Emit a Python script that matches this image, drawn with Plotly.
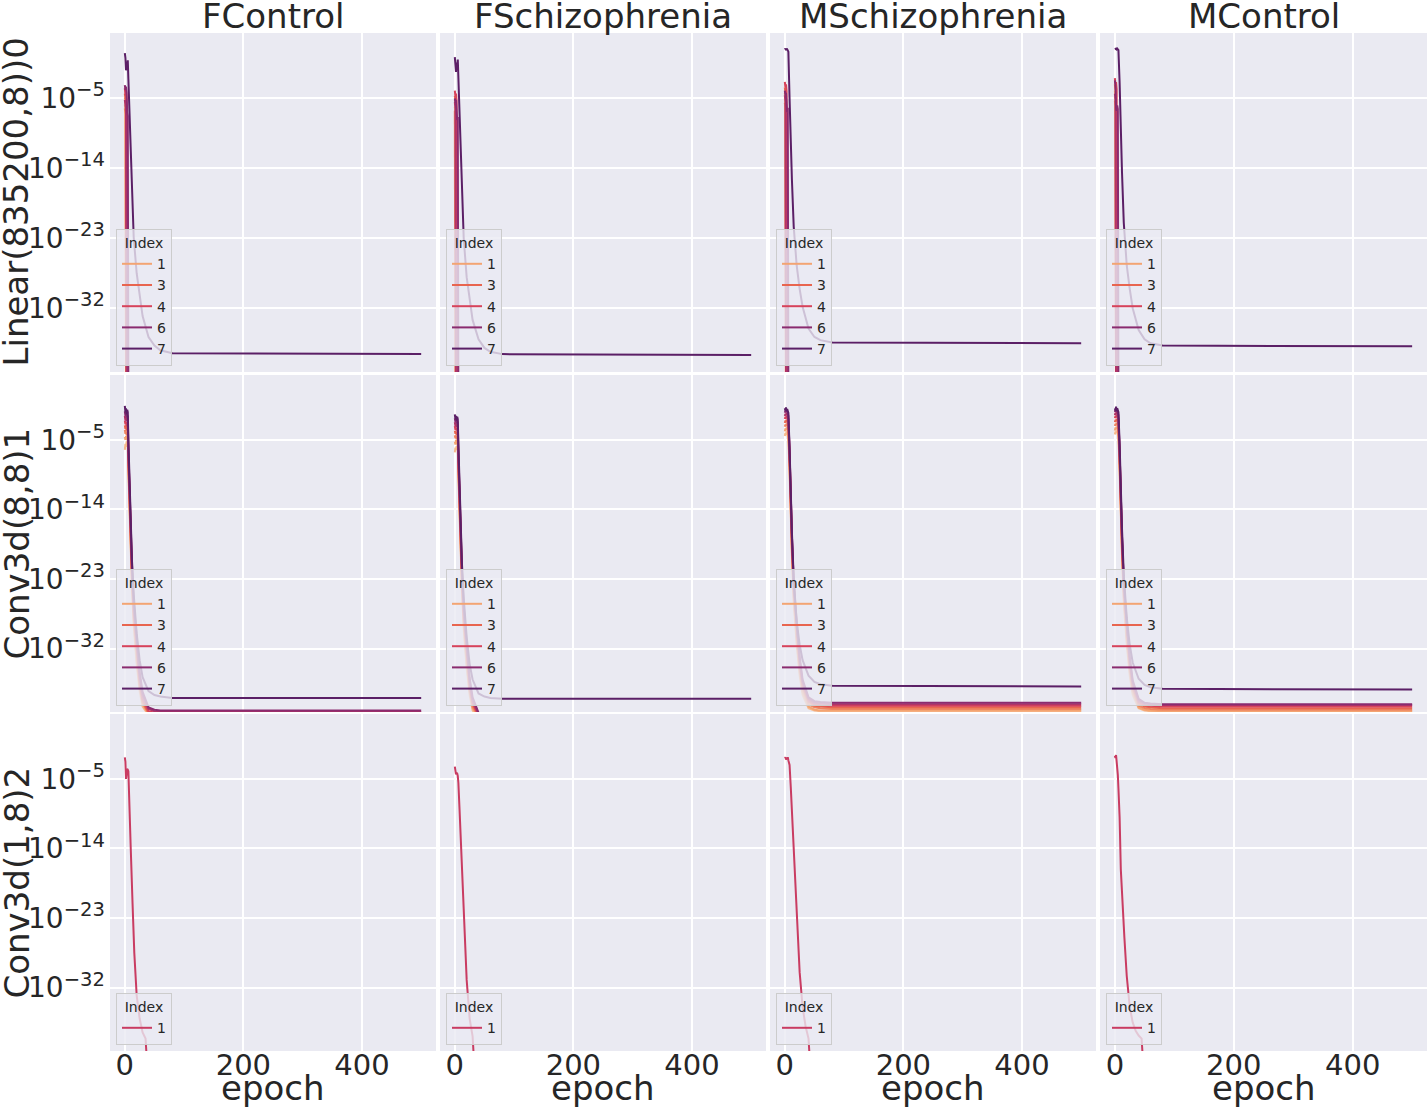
import plotly.graph_objects as go
from plotly.subplots import make_subplots

# facet labels
columns = ["FControl", "FSchizophrenia", "MSchizophrenia", "MControl"]
layers = ["Linear(835200,8))0", "Conv3d(8,8)1", "Conv3d(1,8)2"]

# hue colours for Index 0..7 and for the single-index last row
palette = ["#f6b98c", "#f3a472", "#ee8561", "#e8654f", "#d7435b", "#b13467", "#8a2b6f", "#5b1f66"]
single_color = "#c93c62"
legend_indices = [1, 3, 4, 6, 7]

# epochs on which the values were read; values are log10, -45 = fell to zero
epochs = [0, 1, 2, 3, 4, 5, 6, 8, 10, 12, 15, 20, 25, 30, 40, 50, 60, 80, 500]
epochs_last = [0, 1, 2, 3, 4, 5, 6, 8, 10, 13, 16, 20, 25, 30, 35, 40, 45, 50]

# --- Linear(835200,8))0 ---
lin_fcontrol = [
    [-5.8, -6.5, -45],
    [-4.9, -5.6, -6.2, -45],
    [-6.3, -7.0, -45],
    [-4.4, -5.1, -4.8, -45],
    [-3.7, -4.6, -4.1, -5.0, -45],
    [-5.2, -6.0, -6.6, -45],
    [-3.3, -3.9, -3.5, -4.2, -6.8, -7.3, -45],
    [0.8, 0.2, -1.4, -0.6, -1.0, -0.1, -2.5, -7, -12, -16.5, -22.9, -27.5, -30.5, -33, -35.7, -36.8, -37.4, -37.8, -37.9],
]
lin_fschizo = [
    [-6.1, -6.9, -45],
    [-5.2, -5.8, -45],
    [-6.6, -45],
    [-4.7, -5.3, -5.0, -45],
    [-4.0, -4.8, -4.4, -5.3, -45],
    [-5.5, -6.3, -45],
    [-5.0, -5.6, -5.2, -6.1, -7.8, -7.4, -45],
    [0.3, -0.6, -1.6, -0.4, -1.3, 0.0, -2.5, -7, -12, -16.5, -23, -28, -31, -33.5, -36, -37.1, -37.6, -37.9, -38.0],
]
lin_mschizo = [
    [-5.0, -5.8, -45],
    [-4.3, -5.1, -45],
    [-5.6, -6.2, -45],
    [-3.6, -4.4, -4.0, -45],
    [-2.9, -3.6, -3.2, -4.1, -45],
    [-4.6, -5.4, -45],
    [-4.0, -4.6, -4.3, -6.5, -6.8, -6.2, -45],
    [1.3, 1.4, 1.2, 1.4, 1.3, 1.2, 1.0, -5, -11, -15.5, -21.5, -26.5, -29.5, -31.8, -34.6, -35.7, -36.1, -36.4, -36.5],
]
lin_mcontrol = [
    [-4.8, -5.5, -45],
    [-4.0, -4.9, -45],
    [-5.3, -6.0, -45],
    [-3.2, -4.0, -3.7, -45],
    [-2.4, -3.2, -2.9, -3.8, -45],
    [-4.4, -5.1, -45],
    [-2.7, -3.4, -6.2, -6.6, -5.9, -6.4, -45],
    [1.3, 1.4, 1.4, 1.3, 1.4, 1.3, 1.2, -3, -9.5, -14.5, -21, -26.5, -29.5, -32, -34.8, -36, -36.5, -36.8, -36.9],
]

# --- Conv3d(8,8)1 ---
c1_fcontrol = [
    [-6.3, -5.5, -5.9, -5.2, -5.6, -5.8, -9, -15, -20, -24, -29, -34, -37.5, -39.5, -40.6, -40.7, -40.7, -40.7, -40.7],
    [-4.6, -5.0, -4.5, -4.9, -4.7, -5.1, -8.5, -14.5, -19.5, -23.5, -28.5, -33.5, -37, -39.2, -40.5, -40.6, -40.6, -40.6, -40.6],
    [-3.7, -4.2, -3.9, -4.4, -4.0, -4.3, -8, -14, -19, -23, -28, -33, -36.8, -39, -40.4, -40.5, -40.5, -40.5, -40.5],
    [-3.1, -3.6, -3.2, -3.8, -3.4, -3.7, -7.5, -13.5, -18.5, -22.5, -27.5, -32.5, -36.5, -38.8, -40.3, -40.4, -40.4, -40.4, -40.4],
    [-2.5, -3.0, -2.7, -3.2, -2.8, -3.1, -7, -13, -18, -22, -27, -32, -36, -38.5, -40.1, -40.3, -40.3, -40.3, -40.3],
    [-1.9, -2.5, -2.1, -2.6, -2.3, -2.6, -6.5, -12.5, -17.5, -21.5, -26.5, -31.5, -35.5, -38, -39.8, -40.1, -40.2, -40.2, -40.2],
    [-1.3, -1.9, -1.5, -2.1, -1.8, -2.0, -6, -12, -17, -21, -26, -31, -35, -37.6, -39.6, -39.9, -40.0, -40.0, -40.0],
    [-0.6, -1.4, -0.9, -1.7, -1.1, -1.4, -5, -11, -16.5, -20.5, -25, -30, -33.5, -35.7, -37.5, -38.0, -38.2, -38.4, -38.4],
]
c1_fschizo = [
    [-6.6, -6.0, -6.3, -5.8, -6.1, -6.2, -9.5, -15.5, -20.5, -24.5, -29.5, -34.5, -38, -40, -41, -41.1, -41.1, -41.1, -41.1],
    [-5.2, -5.6, -5.0, -5.5, -5.3, -5.6, -9, -15, -20, -24, -29, -34, -37.6, -39.7, -40.9, -41.0, -41.0, -41.0, -41.0],
    [-4.4, -4.8, -4.5, -4.9, -4.6, -4.9, -8.5, -14.5, -19.5, -23.5, -28.5, -33.5, -37.3, -39.5, -40.8, -40.9, -40.9, -40.9, -40.9],
    [-3.8, -4.2, -3.9, -4.4, -4.0, -4.3, -8, -14, -19, -23, -28, -33, -37, -39.2, -40.7, -40.8, -40.8, -40.8, -40.8],
    [-3.2, -3.7, -3.4, -3.8, -3.5, -3.8, -7.5, -13.5, -18.5, -22.5, -27.5, -32.5, -36.6, -39, -40.6, -40.7, -40.7, -40.7, -40.7],
    [-2.7, -3.2, -2.9, -3.3, -3.0, -3.3, -7, -13, -18, -22, -27, -32, -36.2, -38.7, -40.5, -40.6, -40.6, -40.6, -40.6],
    [-2.2, -2.7, -2.4, -2.9, -2.5, -2.8, -6.5, -12.5, -17.5, -21.5, -26.5, -31.5, -35.8, -38.3, -40.3, -40.5, -40.5, -40.5, -40.5],
    [-1.7, -2.3, -1.9, -2.5, -2.0, -2.3, -5.5, -11.5, -17, -21, -25.5, -30.5, -34, -36, -37.8, -38.2, -38.4, -38.5, -38.5],
]
c1_mschizo = [
    [-4.5, -4.1, -4.3, -3.9, -4.2, -4.4, -4.8, -9, -15, -20, -26, -31.5, -35.5, -38, -39.7, -40.0, -40.1, -40.1, -40.1],
    [-3.9, -3.5, -3.7, -3.4, -3.6, -3.8, -4.2, -8.5, -14.5, -19.5, -25.5, -31, -35, -37.6, -39.5, -39.9, -40.0, -40.0, -40.0],
    [-3.3, -3.0, -3.2, -2.9, -3.1, -3.3, -3.7, -8, -14, -19, -25, -30.5, -34.6, -37.2, -39.2, -39.6, -39.7, -39.8, -39.8],
    [-2.8, -2.5, -2.7, -2.4, -2.6, -2.8, -3.2, -7.5, -13.5, -18.5, -24.5, -30, -34.2, -36.9, -38.9, -39.4, -39.5, -39.6, -39.6],
    [-2.3, -2.0, -2.2, -1.9, -2.1, -2.3, -2.7, -7, -13, -18, -24, -29.5, -33.8, -36.6, -38.7, -39.2, -39.3, -39.4, -39.4],
    [-1.9, -1.6, -1.8, -1.5, -1.7, -1.9, -2.3, -6.5, -12.5, -17.5, -23.5, -29, -33.4, -36.3, -38.5, -39.0, -39.1, -39.2, -39.2],
    [-1.5, -1.2, -1.4, -1.1, -1.3, -1.5, -1.9, -6.5, -12.5, -17.5, -23.5, -29, -33, -36, -38.3, -38.8, -38.9, -39.0, -39.0],
    [-0.9, -1.2, -0.8, -1.3, -1.0, -1.2, -1.5, -6, -12, -17, -23, -28.5, -31.5, -33.5, -35.5, -36.3, -36.6, -36.8, -36.9],
]
c1_mcontrol = [
    [-4.3, -3.9, -4.1, -3.8, -4.0, -4.2, -4.6, -9, -15, -20, -26, -31.5, -35.5, -38, -39.7, -40.0, -40.1, -40.1, -40.1],
    [-3.8, -3.4, -3.6, -3.3, -3.5, -3.7, -4.1, -8.5, -14.5, -19.5, -25.5, -31, -35, -37.6, -39.6, -39.9, -40.0, -40.1, -40.1],
    [-3.2, -2.9, -3.1, -2.8, -3.0, -3.2, -3.6, -8, -14, -19, -25, -30.5, -34.6, -37.3, -39.4, -39.7, -39.8, -39.9, -39.9],
    [-2.7, -2.4, -2.6, -2.3, -2.5, -2.7, -3.1, -7.5, -13.5, -18.5, -24.5, -30, -34.2, -37, -39.1, -39.5, -39.6, -39.7, -39.7],
    [-2.2, -1.9, -2.1, -1.8, -2.0, -2.2, -2.6, -7, -13, -18, -24, -29.5, -33.8, -36.7, -38.9, -39.3, -39.4, -39.5, -39.5],
    [-1.8, -1.5, -1.7, -1.4, -1.6, -1.8, -2.2, -6.5, -12.5, -17.5, -23.5, -29, -33.4, -36.4, -38.7, -39.1, -39.2, -39.3, -39.3],
    [-1.4, -1.1, -1.3, -1.0, -1.2, -1.4, -1.8, -6.5, -12.5, -17.5, -23.5, -29, -33, -36.1, -38.5, -39.0, -39.1, -39.2, -39.2],
    [-0.9, -1.2, -0.7, -1.3, -0.9, -1.1, -1.4, -5.5, -11.5, -16.5, -22.5, -28, -31.5, -33.8, -35.9, -36.7, -37.0, -37.2, -37.3],
]

# --- Conv3d(1,8)2 (single index) ---
c2_fcontrol = [-2.2, -2.8, -5.0, -4.6, -3.7, -3.8, -4.0, -8, -14, -21, -27.5, -33, -36, -37.8, -38.6, -45]
c2_fschizo = [-3.4, -3.8, -4.4, -4.2, -4.3, -4.6, -5.5, -9, -13, -19.5, -25, -31, -36, -38.3, -45]
c2_mschizo = [-2.3, -2.2, -2.5, -2.3, -2.4, -2.2, -2.6, -3.2, -6, -11, -16, -23, -30, -34.5, -37, -38.6, -45]
c2_mcontrol = [-2.0, -2.3, -1.9, -2.6, -3.4, -4.5, -6.2, -10, -16.7, -21.5, -25.5, -30.5, -34.5, -36.5, -37.6, -38.2, -38.6, -45]

linear_rows = [lin_fcontrol, lin_fschizo, lin_mschizo, lin_mcontrol]
conv1_rows = [c1_fcontrol, c1_fschizo, c1_mschizo, c1_mcontrol]
conv2_rows = [c2_fcontrol, c2_fschizo, c2_mschizo, c2_mcontrol]

W, H = 1428, 1107
col_px = [(110, 436), (440, 766), (770, 1096), (1100, 1427)]
row_px = [(33, 372), (375, 712), (714, 1051)]
TXT = "#262626"
FONT = "DejaVu Sans"

fig = make_subplots(rows=3, cols=4)

def legend_id(r, c):
    n = r * 4 + c + 1
    return "legend" if n == 1 else f"legend{n}"

for c in range(4):
    for r, panel in enumerate([linear_rows[c], conv1_rows[c]]):
        for idx, vals in enumerate(panel):
            fig.add_trace(go.Scatter(
                x=epochs[:len(vals)], y=[10 ** v for v in vals],
                mode="lines", line=dict(color=palette[idx], width=2),
                name=str(idx), showlegend=idx in legend_indices,
                legend=legend_id(r, c),
            ), row=r + 1, col=c + 1)
    vals = conv2_rows[c]
    fig.add_trace(go.Scatter(
        x=epochs_last[:len(vals)], y=[10 ** v for v in vals],
        mode="lines", line=dict(color=single_color, width=2),
        name="1", showlegend=True, legend=legend_id(2, c),
    ), row=3, col=c + 1)

layout = {}
for r in range(3):
    for c in range(4):
        n = r * 4 + c + 1
        suffix = "" if n == 1 else str(n)
        x0, x1 = col_px[c]
        y0, y1 = row_px[r]
        layout["xaxis" + suffix] = dict(
            domain=[x0 / W, x1 / W], range=[-25, 525],
            tickvals=[0, 200, 400], showticklabels=(r == 2),
            gridcolor="white", gridwidth=1.5, zeroline=False, showline=False,
            ticks="", ticklabelstandoff=-6,
            tickfont=dict(size=29, color=TXT, family=FONT),
        )
        layout["yaxis" + suffix] = dict(
            domain=[1 - y1 / H, 1 - y0 / H], type="log", range=[-40.2, 3.4],
            tickvals=[1e-32, 1e-23, 1e-14, 1e-5],
            ticktext=["10<sup>\u221232</sup>", "10<sup>\u221223</sup>",
                      "10<sup>\u221214</sup>", "10<sup>\u22125</sup>"],
            showticklabels=(c == 0),
            gridcolor="white", gridwidth=1.5, zeroline=False, showline=False,
            ticks="", ticklabelstandoff=4,
            tickfont=dict(size=28, color=TXT, family=FONT),
        )
        lid = legend_id(r, c)
        layout[lid] = dict(
            x=(x0 + 6) / W, y=1 - (y1 - 6) / H, xanchor="left", yanchor="bottom",
            bgcolor="rgba(234,234,242,0.8)", bordercolor="#cccccc", borderwidth=1,
            font=dict(size=14, color=TXT, family=FONT),
            title=dict(text="Index", side="top center", font=dict(size=14, color=TXT, family=FONT)),
            tracegroupgap=0,
        )

annotations = []
for c, name in enumerate(columns):
    xc = (col_px[c][0] + col_px[c][1]) / 2 / W
    annotations.append(dict(text=name, x=xc, y=1 - 16 / H, xref="paper", yref="paper",
                            xanchor="center", yanchor="middle", showarrow=False,
                            font=dict(size=34, color=TXT, family=FONT)))
    annotations.append(dict(text="epoch", x=xc, y=1 - 1088 / H, xref="paper", yref="paper",
                            xanchor="center", yanchor="middle", showarrow=False,
                            font=dict(size=34, color=TXT, family=FONT)))
for r, name in enumerate(layers):
    yc = 1 - (row_px[r][0] + row_px[r][1]) / 2 / H
    annotations.append(dict(text=name, x=16 / W, y=yc, xref="paper", yref="paper",
                            xanchor="center", yanchor="middle", textangle=-90,
                            showarrow=False, font=dict(size=34, color=TXT, family=FONT)))

fig.update_layout(
    width=W, height=H, margin=dict(l=0, r=0, t=0, b=0),
    paper_bgcolor="white", plot_bgcolor="#EAEAF2",
    font=dict(family=FONT, color=TXT),
    annotations=annotations,
    **layout,
)

fig.write_html("out.html", config={"displayModeBar": False},
               post_script="document.body.style.margin='0';")
